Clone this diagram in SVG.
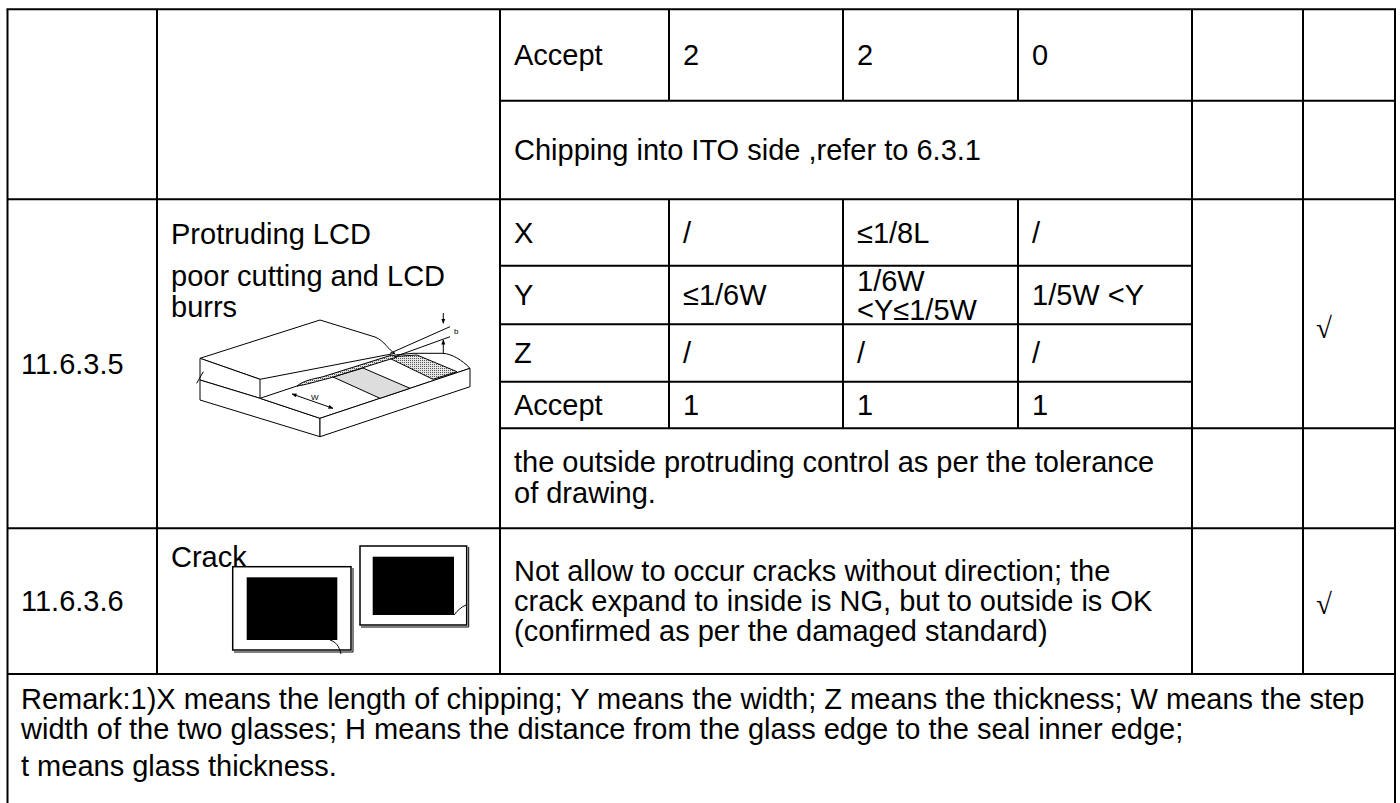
<svg xmlns="http://www.w3.org/2000/svg" width="1400" height="803" viewBox="0 0 1400 803">
<style>
.t{font-family:"Liberation Sans",Arial,sans-serif;font-size:29px;fill:#000}
.ck{font-family:"Liberation Serif","Times New Roman",serif;font-size:29px;fill:#000}
.g{stroke:#000;stroke-width:2;fill:none}
.d{stroke:#000;stroke-width:1;fill:#fff}
.dl{stroke:#000;stroke-width:1;fill:none}
.sm{font-family:"Liberation Sans",Arial,sans-serif;font-size:8px;fill:#000}
</style>
<defs>
<pattern id="dots" width="2" height="2" patternUnits="userSpaceOnUse"><rect width="2" height="2" fill="#e6e6e6"/><rect width="1" height="1" fill="#555"/></pattern>
<marker id="ah" viewBox="0 0 10 10" refX="9" refY="5" markerWidth="5" markerHeight="5" orient="auto-start-reverse"><path d="M0,1 L10,5 L0,9 Z" fill="#000"/></marker>
</defs>
<rect width="1400" height="803" fill="#fff"/>
<g id="connectors">
<path class="g" d="M7.5,9.3 V803 M1395,9.3 V803 M157,9.3 V674 M500,9.3 V674 M1192,9.3 V674 M1303,9.3 V674 M669,9.3 V100.7 M843,9.3 V100.7 M1018,9.3 V100.7 M669,199.3 V428.3 M843,199.3 V428.3 M1018,199.3 V428.3"/>
<path class="g" d="M6.5,9.3 H1396 M500,100.7 H1395 M7.5,199.3 H1395 M500,265.7 H1192 M500,324.3 H1192 M500,381.7 H1192 M500,428.3 H1395 M7.5,528.3 H1395 M7.5,674 H1395"/>
</g>
<g id="row-top">
<text class="t" x="514" y="65">Accept</text>
<text class="t" x="683" y="65">2</text>
<text class="t" x="857" y="65">2</text>
<text class="t" x="1032" y="65">0</text>
<text class="t" x="514" y="160">Chipping into ITO side ,refer to 6.3.1</text>
</g>
<g id="node-11635">
<text class="t" x="21" y="374">11.6.3.5</text>
<text class="t" x="171" y="244">Protruding LCD</text>
<text class="t" x="171" y="286">poor cutting and LCD</text>
<text class="t" x="171" y="317">burrs</text>
<text class="t" x="514" y="243">X</text>
<text class="t" x="683" y="243">/</text>
<text class="t" x="857" y="243">≤1/8L</text>
<text class="t" x="1032" y="243">/</text>
<text class="t" x="514" y="305">Y</text>
<text class="t" x="683" y="305">≤1/6W</text>
<text class="t" x="857" y="291">1/6W</text>
<text class="t" x="857" y="320">&lt;Y≤1/5W</text>
<text class="t" x="1032" y="305">1/5W &lt;Y</text>
<text class="t" x="514" y="363">Z</text>
<text class="t" x="683" y="363">/</text>
<text class="t" x="857" y="363">/</text>
<text class="t" x="1032" y="363">/</text>
<text class="t" x="514" y="415">Accept</text>
<text class="t" x="683" y="415">1</text>
<text class="t" x="857" y="415">1</text>
<text class="t" x="1032" y="415">1</text>
<text class="t" x="514" y="472">the outside protruding control as per the tolerance</text>
<text class="t" x="514" y="503">of drawing.</text>
<text class="ck" x="1316" y="338">√</text>
</g>
<g id="illustration-protruding">
<path class="d" d="M200,358.3 L320,320 L375,337 C385,341 388,350 395,353.3 L260,379.3 Z"/>
<path class="d" d="M200,358.3 L260,379.3 L260,398.3 L200,380 Z"/>
<path class="d" d="M200,380 L260,398.3 L320,418.3 L320,436.7 L200,400 Z"/>
<path class="d" d="M260,398.3 L320,418.3 L470,368.3 C462,360 452,354 443,353.3 L413,353.3 L395,355 L300,385 Z"/>
<path class="d" d="M320,418.3 L470,368.3 L470,386.7 L320,436.7 Z"/>
<path d="M333,377 L363,368 L410,388.3 L380,398.3 Z" fill="#ddd" stroke="#000" stroke-width="1"/>
<path d="M387,357 L417,355 L457,371.7 L433,379.3 Z" fill="url(#dots)" stroke="#000" stroke-width="1"/>
<path d="M297,386 C303,381 312,379 322,377 L392,355 L397,357 L330,378 C318,381 305,385 297,386 Z" fill="url(#dots)" stroke="#000" stroke-width="1"/>
<path class="dl" d="M196.7,383.3 L203.3,371.7"/>
<path class="dl" d="M390,353.3 L450,326.7 M396.7,356 L450,336.7"/>
<path class="dl" d="M443.3,313 V323.3" marker-end="url(#ah)"/>
<path class="dl" d="M443.3,353.3 V340" marker-end="url(#ah)"/>
<path class="dl" d="M292,394 L333,408.3" marker-start="url(#ah)" marker-end="url(#ah)"/>
<text class="sm" x="311" y="400">W</text>
<text class="sm" x="454" y="334">b</text>
</g>
<g id="node-11636">
<text class="t" x="21" y="611">11.6.3.6</text>
<text class="t" x="171" y="567">Crack</text>
<rect x="232.7" y="566.7" width="118.3" height="83.3" fill="none" stroke="#000" stroke-width="1.5"/>
<path class="dl" d="M234,652 H353 V568"/>
<rect x="246.7" y="577.3" width="90.6" height="62.7" fill="#000"/>
<rect x="360" y="546" width="106.7" height="79" fill="#fff" stroke="#000" stroke-width="1.5"/>
<path class="dl" d="M361,627 H468.7 V547"/>
<rect x="372.7" y="556.7" width="81.3" height="58.3" fill="#000"/>
<path class="dl" d="M330,640 C336,642 339,646 341,654"/>
<path class="dl" d="M454,615 C457,611 461,607 466,605"/>
<text class="t" x="514" y="581">Not allow to occur cracks without direction; the</text>
<text class="t" x="514" y="611">crack expand to inside is NG, but to outside is OK</text>
<text class="t" x="514" y="641">(confirmed as per the damaged standard)</text>
<text class="ck" x="1316" y="614">√</text>
</g>
<g id="remark">
<text class="t" x="21" y="709">Remark:1)X means the length of chipping; Y means the width; Z means the thickness; W means the step</text>
<text class="t" x="21" y="739">width of the two glasses; H means the distance from the glass edge to the seal inner edge;</text>
<text class="t" x="21" y="776">t means glass thickness.</text>
</g>
</svg>
